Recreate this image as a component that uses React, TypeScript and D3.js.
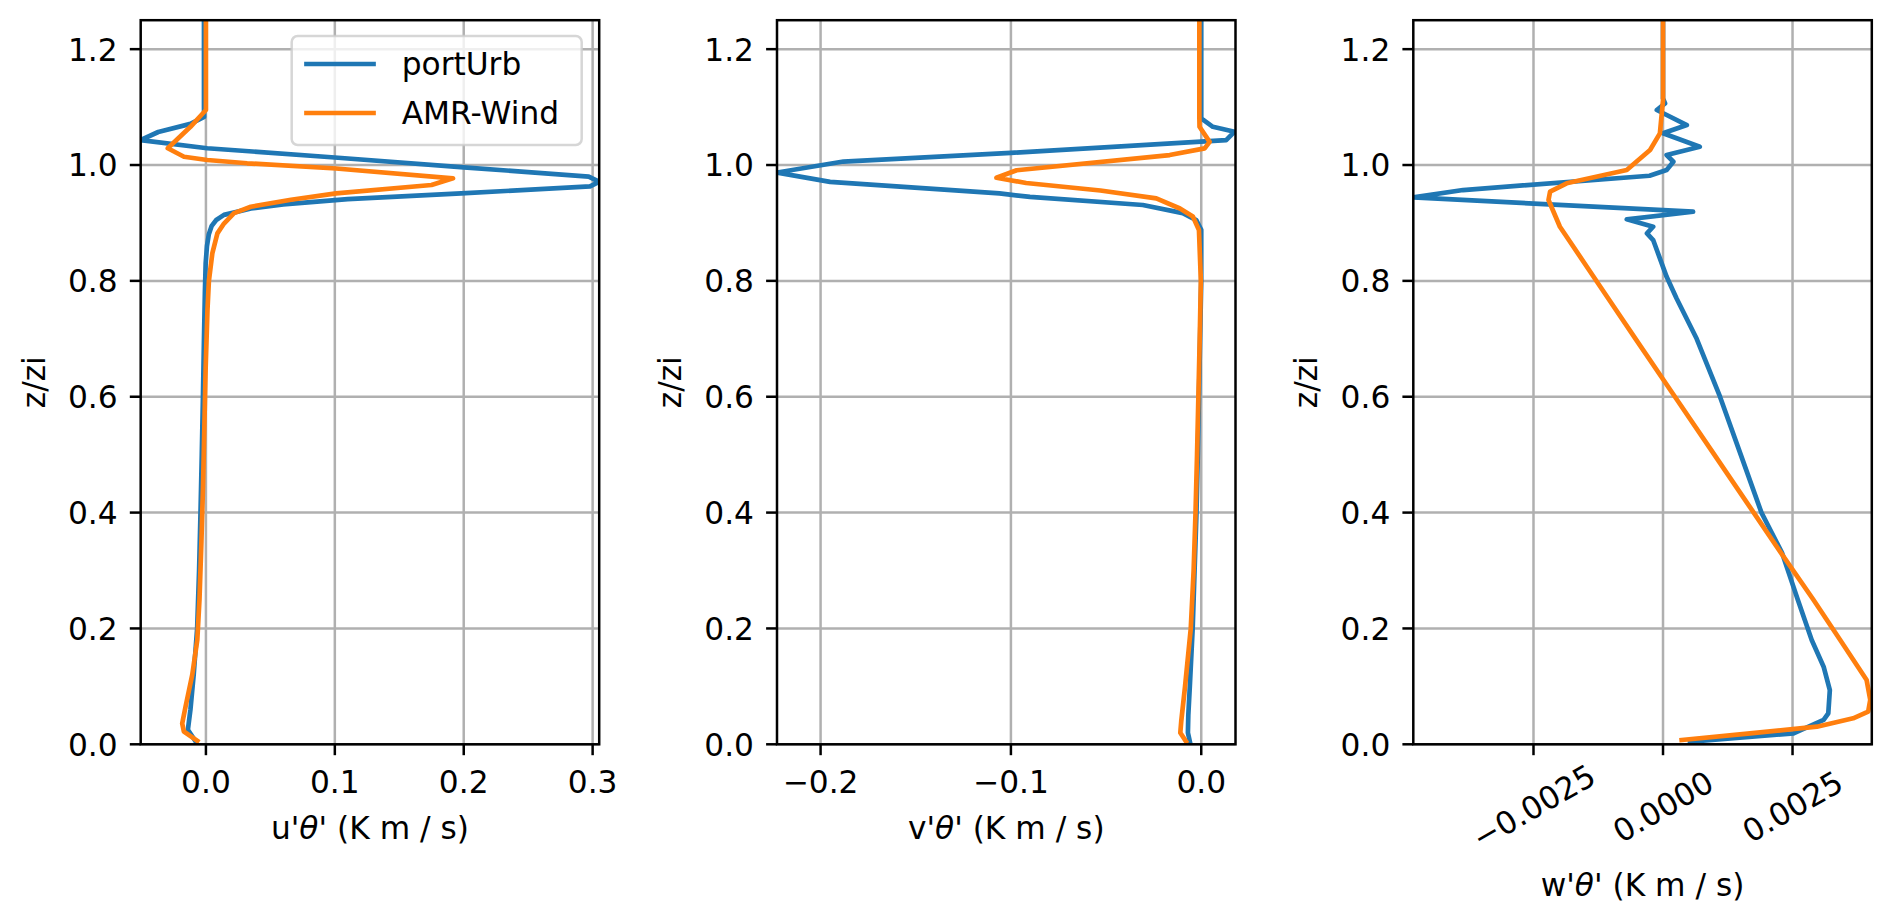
import React, { useRef, useEffect } from "react";
import * as d3 from "d3";

// z/zi heights (rows) and heat-flux values for each profile
const uZPortUrb = [0.005, 0.025, 0.06, 0.12, 0.2, 0.3, 0.4, 0.5, 0.6, 0.7, 0.78, 0.83, 0.86, 0.88, 0.895, 0.905, 0.914, 0.925, 0.932, 0.941, 0.951, 0.963, 0.971, 0.98, 0.996, 1.013, 1.029, 1.043, 1.057, 1.071, 1.083, 1.1, 1.25];
const uPortUrb = [-0.008, -0.014, -0.012, -0.0095, -0.0068, -0.0053, -0.0042, -0.0032, -0.0023, -0.0015, -0.0008, -0.0002, 0.0008, 0.0022, 0.0045, 0.008, 0.014, 0.035, 0.06, 0.11, 0.198, 0.298, 0.3051, 0.297, 0.2, 0.1, 0.001, -0.0506, -0.037, -0.012, -0.0014, -0.0015, -0.0015];
const uZAmr = [0.006, 0.022, 0.036, 0.065, 0.12, 0.18, 0.25, 0.35, 0.45, 0.55, 0.65, 0.75, 0.8, 0.848, 0.882, 0.899, 0.917, 0.928, 0.94, 0.951, 0.9655, 0.977, 0.994, 1.003, 1.0087, 1.0143, 1.029, 1.066, 1.095, 1.25];
const uAmr = [-0.0067, -0.0171, -0.0184, -0.0158, -0.0106, -0.0067, -0.005, -0.0035, -0.0022, -0.0012, -0.0002, 0.0012, 0.0023, 0.005, 0.0089, 0.014, 0.0218, 0.0348, 0.066, 0.101, 0.175, 0.1917, 0.101, 0.032, 0.001, -0.017, -0.0296, -0.012, 0.0, 0.0];

const vZPortUrb = [0.005, 0.02, 0.05, 0.1, 0.2, 0.3, 0.4, 0.5, 0.6, 0.7, 0.8, 0.888, 0.905, 0.917, 0.931, 0.945, 0.951, 0.971, 0.987, 1.006, 1.021, 1.043, 1.0575, 1.066, 1.0806, 1.25];
const vPortUrb = [-0.006, -0.007, -0.0068, -0.006, -0.0045, -0.0035, -0.0025, -0.0018, -0.0012, -0.0006, 0.0, 0.0, -0.0026, -0.0097, -0.0307, -0.09, -0.106, -0.195, -0.2229, -0.188, -0.1, 0.0131, 0.0175, 0.0061, 0.0, 0.0];
const vZAmr = [0.005, 0.02, 0.04, 0.1, 0.2, 0.3, 0.4, 0.5, 0.6, 0.7, 0.8, 0.888, 0.911, 0.925, 0.9425, 0.956, 0.969, 0.978, 0.991, 1.0172, 1.0288, 1.04, 1.066, 1.083, 1.25];
const vAmr = [-0.008, -0.011, -0.0105, -0.0085, -0.0055, -0.004, -0.003, -0.0022, -0.0015, -0.0008, -0.0002, -0.0012, -0.0044, -0.0112, -0.0236, -0.053, -0.092, -0.1076, -0.097, -0.0166, 0.0018, 0.0044, -0.0009, -0.001, -0.001];

const wZPortUrb = [0.0045, 0.019, 0.042, 0.0535, 0.0937, 0.134, 0.18, 0.25, 0.33, 0.4, 0.5, 0.6, 0.7, 0.77, 0.807, 0.8705, 0.882, 0.8935, 0.9063, 0.9194, 0.9442, 0.9568, 0.9815, 0.9914, 1.0057, 1.0173, 1.0316, 1.0547, 1.069, 1.095, 1.1065, 1.115, 1.25];
const wPortUrb = [0.00052, 0.00252, 0.0031, 0.00319, 0.00322, 0.0031, 0.00287, 0.0026, 0.0023, 0.0019, 0.0015, 0.0011, 0.00065, 0.00026, 0.00007, -0.00019, -0.00031, -0.00019, -0.0007, 0.00058, -0.00482, -0.00386, -0.00026, 0.00007, 0.0002, 0.00007, 0.00071, 0.0, 0.00046, -0.00012, 0.00004, 0.0, 0.0];
const wZAmr = [0.0074, 0.019, 0.0304, 0.0449, 0.0563, 0.0766, 0.111, 0.18, 0.25, 0.33, 0.4, 0.5, 0.6, 0.7, 0.77, 0.8244, 0.8935, 0.9396, 0.954, 0.9684, 0.9914, 1.026, 1.0547, 1.112, 1.25];
const wAmr = [0.00036, 0.00168, 0.00297, 0.00367, 0.00396, 0.004, 0.00393, 0.00342, 0.0029, 0.00228, 0.00175, 0.00099, 0.00023, -0.00053, -0.00106, -0.00147, -0.00199, -0.00221, -0.00218, -0.00186, -0.0007, -0.00025, -0.00006, 0.0, 0.0];

const zTicks = [0, 0.2, 0.4, 0.6, 0.8, 1.0, 1.2];
const zTickLabels = ["0.0", "0.2", "0.4", "0.6", "0.8", "1.0", "1.2"];
const uTicks = [0, 0.1, 0.2, 0.3];
const uTickLabels = ["0.0", "0.1", "0.2", "0.3"];
const vTicks = [-0.2, -0.1, 0];
const vTickLabels = ["\u22120.2", "\u22120.1", "0.0"];
const wTicks = [-0.0025, 0, 0.0025];
const wTickLabels = ["\u22120.0025", "0.0000", "0.0025"];

const seriesNames = ["portUrb", "AMR-Wind"];
const seriesColors = ["#1f77b4", "#ff7f0e"];

const zip = (z: number[], v: number[]) => z.map((d, i) => [d, v[i]] as [number, number]);

const panels = [
  { comp: "u", domain: [-0.0506, 0.3051], ticks: uTicks, labels: uTickLabels, rotate: false,
    series: [zip(uZPortUrb, uPortUrb), zip(uZAmr, uAmr)] },
  { comp: "v", domain: [-0.2229, 0.018], ticks: vTicks, labels: vTickLabels, rotate: false,
    series: [zip(vZPortUrb, vPortUrb), zip(vZAmr, vAmr)] },
  { comp: "w", domain: [-0.00482, 0.00403], ticks: wTicks, labels: wTickLabels, rotate: true,
    series: [zip(wZPortUrb, wPortUrb), zip(wZAmr, wAmr)] },
];

const App = () => {
  const ref = useRef<SVGSVGElement | null>(null);

  useEffect(() => {
    if (!ref.current) return;
    const svg = d3.select(ref.current);
    svg.selectAll("*").remove();

    const font = "DejaVu Sans";
    const fs = 31.25;
    const top = 20.2;
    const bottom = 744.3;
    const pw = 458.5;
    const tickLen = 10.9;
    const lw = 2.5;

    const y = d3.scaleLinear().domain([0, 1.25]).range([bottom, top]);

    panels.forEach((p, i) => {
      const left = 140.7 + i * 636.3;
      const x = d3.scaleLinear().domain(p.domain).range([left, left + pw]);
      const g = svg.append("g");

      g.append("clipPath")
        .attr("id", `clip-${i}`)
        .append("rect")
        .attr("x", left)
        .attr("y", top)
        .attr("width", pw)
        .attr("height", bottom - top);

      // grid
      g.selectAll(".gx")
        .data(p.ticks)
        .enter()
        .append("line")
        .attr("x1", (d) => x(d))
        .attr("x2", (d) => x(d))
        .attr("y1", top)
        .attr("y2", bottom)
        .attr("stroke", "#b0b0b0")
        .attr("stroke-width", lw);
      g.selectAll(".gy")
        .data(zTicks)
        .enter()
        .append("line")
        .attr("x1", left)
        .attr("x2", left + pw)
        .attr("y1", (d) => y(d))
        .attr("y2", (d) => y(d))
        .attr("stroke", "#b0b0b0")
        .attr("stroke-width", lw);

      // profiles
      const line = d3
        .line<[number, number]>()
        .x((d) => x(d[1]))
        .y((d) => y(d[0]));
      p.series.forEach((s, k) => {
        g.append("path")
          .attr("d", line(s))
          .attr("fill", "none")
          .attr("stroke", seriesColors[k])
          .attr("stroke-width", 4.7)
          .attr("stroke-linejoin", "round")
          .attr("stroke-linecap", "square")
          .attr("clip-path", `url(#clip-${i})`);
      });

      // spines
      g.append("rect")
        .attr("x", left)
        .attr("y", top)
        .attr("width", pw)
        .attr("height", bottom - top)
        .attr("fill", "none")
        .attr("stroke", "#000")
        .attr("stroke-width", lw);

      // y ticks
      g.selectAll(".ty")
        .data(zTicks)
        .enter()
        .append("line")
        .attr("x1", left - tickLen)
        .attr("x2", left)
        .attr("y1", (d) => y(d))
        .attr("y2", (d) => y(d))
        .attr("stroke", "#000")
        .attr("stroke-width", lw);
      g.selectAll(".tly")
        .data(zTicks)
        .enter()
        .append("text")
        .attr("x", left - 23)
        .attr("y", (d) => y(d) + 0.364 * fs)
        .attr("text-anchor", "end")
        .style("font-family", font)
        .style("font-size", `${fs}px`)
        .text((_, j) => zTickLabels[j]);

      // x ticks
      g.selectAll(".tx")
        .data(p.ticks)
        .enter()
        .append("line")
        .attr("x1", (d) => x(d))
        .attr("x2", (d) => x(d))
        .attr("y1", bottom)
        .attr("y2", bottom + tickLen)
        .attr("stroke", "#000")
        .attr("stroke-width", lw);
      if (p.rotate) {
        g.selectAll(".tlx")
          .data(p.ticks)
          .enter()
          .append("text")
          .attr("transform", (d) => `translate(${x(d)},${bottom + 62}) rotate(-30)`)
          .attr("dy", "0.364em")
          .attr("text-anchor", "middle")
          .style("font-family", font)
          .style("font-size", `${fs}px`)
          .text((_, j) => p.labels[j]);
      } else {
        g.selectAll(".tlx")
          .data(p.ticks)
          .enter()
          .append("text")
          .attr("x", (d) => x(d))
          .attr("y", bottom + 49)
          .attr("text-anchor", "middle")
          .style("font-family", font)
          .style("font-size", `${fs}px`)
          .text((_, j) => p.labels[j]);
      }

      // axis labels
      g.append("text")
        .attr("transform", `translate(${left - 96},${(top + bottom) / 2}) rotate(-90)`)
        .attr("text-anchor", "middle")
        .style("font-family", font)
        .style("font-size", `${fs}px`)
        .text("z/zi");
      const xl = g
        .append("text")
        .attr("x", left + pw / 2)
        .attr("y", p.rotate ? bottom + 152 : bottom + 95)
        .attr("text-anchor", "middle")
        .style("font-family", font)
        .style("font-size", `${fs}px`);
      xl.append("tspan").text(`${p.comp}'`);
      xl.append("tspan").style("font-style", "italic").text("\u03b8");
      xl.append("tspan").text("' (K m / s)");

      // legend in first panel
      if (i === 0) {
        const lg = g.append("g");
        lg.append("rect")
          .attr("x", 291.7)
          .attr("y", 36)
          .attr("width", 290)
          .attr("height", 109)
          .attr("rx", 6)
          .attr("fill", "#fff")
          .attr("fill-opacity", 0.8)
          .attr("stroke", "#cccccc")
          .attr("stroke-opacity", 0.8)
          .attr("stroke-width", lw);
        seriesNames.forEach((name, k) => {
          const base = 75 + k * 49;
          lg.append("line")
            .attr("x1", 306.5)
            .attr("x2", 373.5)
            .attr("y1", base - 11)
            .attr("y2", base - 11)
            .attr("stroke", seriesColors[k])
            .attr("stroke-width", 4.7)
            .attr("stroke-linecap", "square");
          lg.append("text")
            .attr("x", 401.7)
            .attr("y", base)
            .style("font-family", font)
            .style("font-size", `${fs}px`)
            .text(name);
        });
      }
    });
  }, []);

  return (
    <div style={{ position: "absolute", left: 0, top: 0 }}>
      <svg ref={ref} width={1892} height={921} style={{ display: "block", background: "#fff" }} />
    </div>
  );
};

export default App;
